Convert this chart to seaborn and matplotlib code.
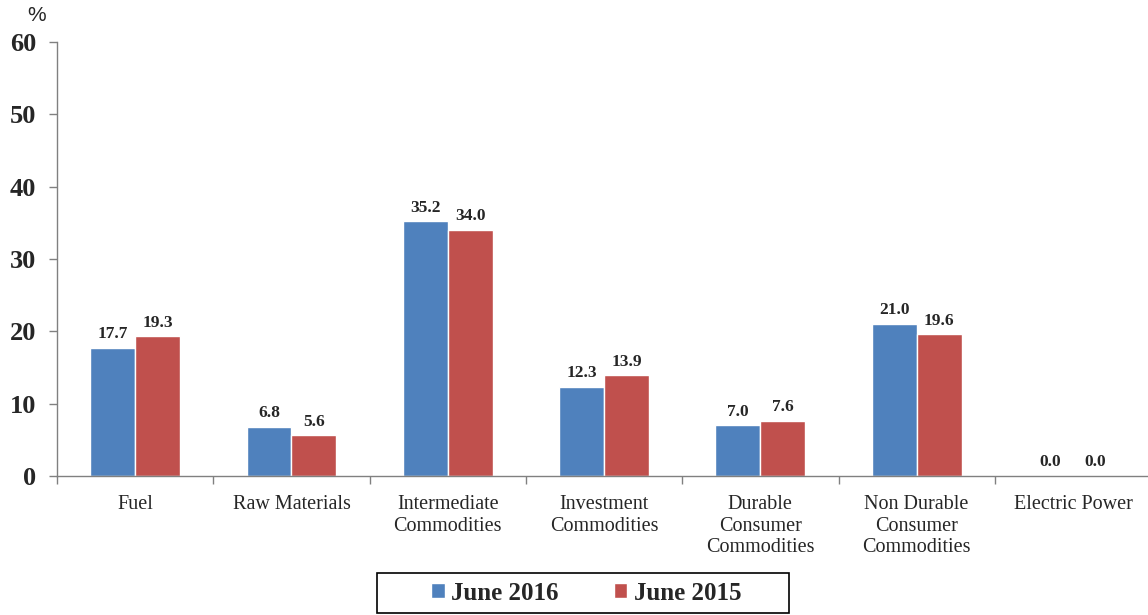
import matplotlib
matplotlib.use("Agg")
import matplotlib.pyplot as plt
from matplotlib.patches import Rectangle
import seaborn as sns
import pandas as pd

categories = ["Fuel", "Raw Materials", "Intermediate\nCommodities", "Investment\nCommodities",
              "Durable\nConsumer\nCommodities", "Non Durable\nConsumer\nCommodities", "Electric Power"]
june_2016 = [17.7, 6.8, 35.2, 12.3, 7.0, 21.0, 0.0]
june_2015 = [19.3, 5.6, 34.0, 13.9, 7.6, 19.6, 0.0]
series = ["June 2016", "June 2015"]
colors = ["#4F81BD", "#C0504D"]

df = pd.DataFrame({
    "category": categories * 2,
    "value": june_2016 + june_2015,
    "series": [series[0]] * len(categories) + [series[1]] * len(categories),
})

sns.set_style("white")
plt.rcParams["font.family"] = ["Liberation Serif", "DejaVu Serif"]

fig = plt.figure(figsize=(11.48, 6.15), dpi=100)
ax = fig.add_axes([0.0497, 0.226, 0.953, 0.706])

sns.barplot(data=df, x="category", y="value", hue="series", palette=colors,
            width=0.575, gap=0, saturation=1, ax=ax, legend=True)

for cont in ax.containers:
    ax.bar_label(cont, fmt="%.1f", padding=4, fontsize=12.5, fontweight="bold")

ax.set_ylim(0, 60)
ax.set_xlim(-0.5, 6.5)
ax.set_yticks(range(0, 61, 10))
ax.set_yticklabels([str(v) for v in range(0, 61, 10)], fontsize=19, fontweight="bold")
ax.tick_params(axis="y", length=6, width=1, color="#808080", pad=9, left=True)
ax.tick_params(axis="x", which="major", length=0, labelsize=14.5, pad=14)
for lbl in ax.get_xticklabels():
    lbl.set_linespacing(1.15)
ax.set_xticks([i + 0.5 for i in range(-1, 7)], minor=True)
ax.tick_params(axis="x", which="minor", length=6, width=1, color="#808080", bottom=True)
ax.set_xlabel("")
ax.set_ylabel("")
for s in ["top", "right"]:
    ax.spines[s].set_visible(False)
for s in ["left", "bottom"]:
    ax.spines[s].set_color("#808080")
    ax.spines[s].set_linewidth(1)

fig.text(0.032, 0.975, "%", fontsize=15, ha="center", va="center", family=["Liberation Sans"])

# legend box drawn separately so the frame can be wider than its content
fig.patches.append(Rectangle((377 / 1148, 1 - 613 / 615), 412 / 1148, 40 / 615,
                             transform=fig.transFigure, fill=False,
                             edgecolor="black", linewidth=1.2))
leg = ax.legend(loc="center", bbox_to_anchor=(586 / 1148, 1 - 593 / 615),
                bbox_transform=fig.transFigure, ncol=2, frameon=False,
                prop={"size": 18, "weight": "bold"}, handlelength=0.55, handleheight=0.55,
                columnspacing=2.2, handletextpad=0.25, borderpad=0, borderaxespad=0)

fig.savefig("out.png", dpi=100)
